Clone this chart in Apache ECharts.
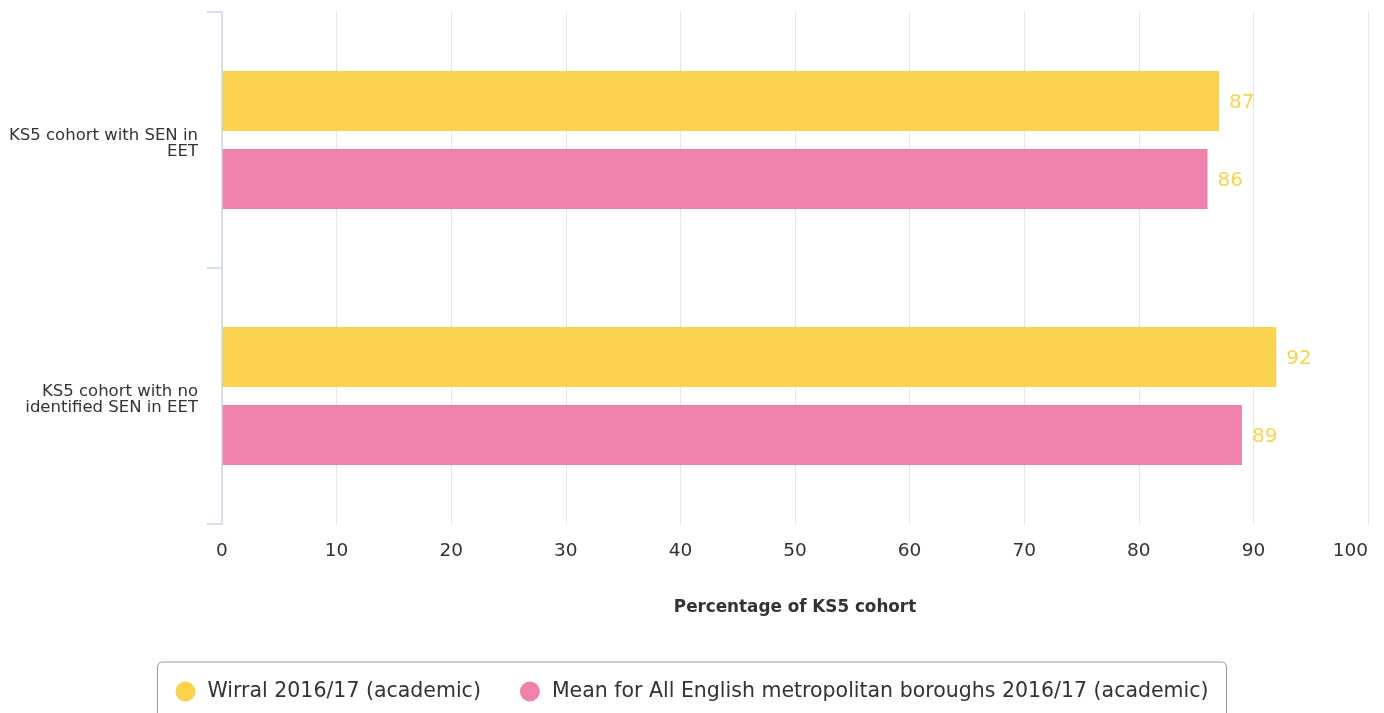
<!DOCTYPE html>
<html>
<head>
<meta charset="utf-8">
<script src="https://cdn.jsdelivr.net/npm/echarts@6/dist/echarts.min.js"></script>
<style>
  html, body { margin: 0; padding: 0; background: #fff; }
  #chart { width: 1384px; height: 713px; }
</style>
</head>
<body>
<div id="chart"></div>
<script>
var categories = ['KS5 cohort with SEN in EET', 'KS5 cohort with no identified SEN in EET'];
var seriesNames = ['Wirral 2016/17 (academic)', 'Mean for All English metropolitan boroughs 2016/17 (academic)'];
var wirralValues = [87, 92];
var meanValues = [86, 89];
var xTicks = { min: 0, max: 100, interval: 10 };

var chart = echarts.init(document.getElementById('chart'));

// wrap long category names on word boundaries, with a small spacer line on top
function wrapLabel(text) {
    var words = text.split(' ');
    var lines = [];
    var line = '';
    words.forEach(function (w) {
        if (line && (line + ' ' + w).length > 22) {
            lines.push(line);
            line = w;
        } else {
            line = line ? line + ' ' + w : w;
        }
    });
    lines.push(line);
    return '{s|}\n' + lines.map(function (l) { return '{t|' + l + '}'; }).join('\n');
}

var labelStyle = {
    show: true,
    position: 'right',
    distance: 10,
    offset: [0, 2],
    color: '#FBD24E',
    fontSize: 20,
    fontFamily: 'DejaVu Sans'
};

var option = {
    animation: false,
    textStyle: { fontFamily: 'DejaVu Sans' },
    grid: {
        left: 222,
        right: 16,
        top: 12,
        bottom: 189,
        outerBoundsMode: 'none',
        containLabel: false
    },
    legend: {
        data: seriesNames,
        top: 662,
        left: 'center',
        icon: 'circle',
        itemWidth: 20,
        itemHeight: 20,
        itemGap: 39,
        padding: [19, 18],
        borderColor: '#999',
        borderWidth: 1,
        borderRadius: 5,
        textStyle: {
            fontSize: 20.5,
            color: '#333',
            padding: [0, 0, 0, 7],
            fontFamily: 'DejaVu Sans'
        }
    },
    xAxis: {
        type: 'value',
        min: xTicks.min,
        max: xTicks.max,
        interval: xTicks.interval,
        name: 'Percentage of KS5 cohort',
        nameLocation: 'middle',
        nameGap: 75,
        nameTextStyle: {
            fontWeight: 'bold',
            fontSize: 16.8,
            color: '#333',
            fontFamily: 'DejaVu Sans'
        },
        axisLine: { show: false },
        axisTick: { show: false },
        axisLabel: {
            margin: 18,
            fontSize: 18.5,
            color: '#333',
            alignMaxLabel: 'right',
            fontFamily: 'DejaVu Sans'
        },
        splitLine: {
            lineStyle: { color: '#e6e6e6', width: 1 }
        }
    },
    yAxis: {
        type: 'category',
        data: categories,
        inverse: true,
        z: 5,
        axisLine: {
            show: true,
            lineStyle: { color: '#ccd6eb', width: 1.5 }
        },
        axisTick: {
            show: true,
            length: 15,
            lineStyle: { color: '#ccd6eb', width: 1.5 }
        },
        axisLabel: {
            margin: 24,
            color: '#333',
            align: 'right',
            fontFamily: 'DejaVu Sans',
            formatter: wrapLabel,
            rich: {
                s: { lineHeight: 8, fontSize: 8 },
                t: { fontSize: 16.5, lineHeight: 16, color: '#333', fontFamily: 'DejaVu Sans' }
            }
        }
    },
    series: [
        {
            name: seriesNames[0],
            type: 'bar',
            data: wirralValues,
            barGap: '30%',
            barCategoryGap: '46%',
            itemStyle: { color: '#FBD24E' },
            label: labelStyle
        },
        {
            name: seriesNames[1],
            type: 'bar',
            data: meanValues,
            barGap: '30%',
            barCategoryGap: '46%',
            itemStyle: { color: '#EF82AC' },
            label: labelStyle
        }
    ]
};

chart.setOption(option);
</script>
</body>
</html>
